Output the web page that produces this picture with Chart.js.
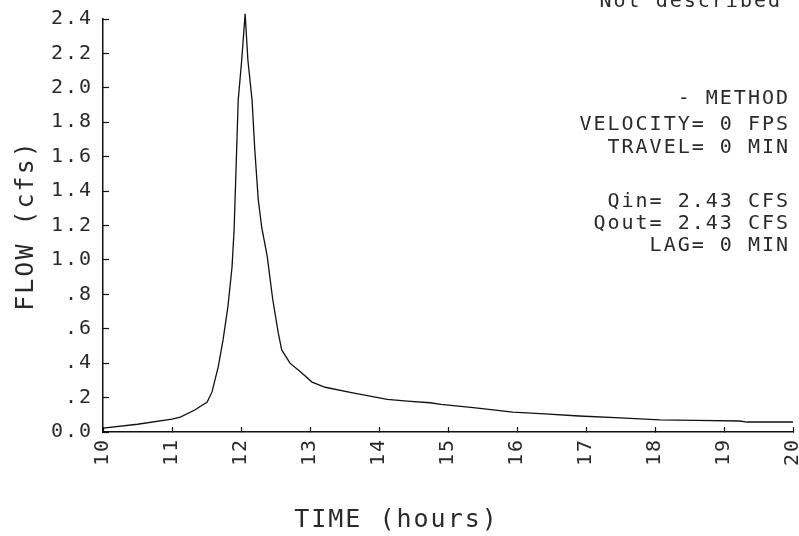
<!DOCTYPE html>
<html>
<head>
<meta charset="utf-8">
<script src="https://cdn.jsdelivr.net/npm/chart.js@4.4.0/dist/chart.umd.min.js"></script>
<style>
  html, body { margin: 0; padding: 0; background: #fff; }
  canvas { display: block; }
</style>
</head>
<body>
<canvas id="flowChart" width="799" height="536"></canvas>
<script>
// hydrograph (hours, cfs)
const hours = [10, 10.5, 11, 11.12, 11.33, 11.51, 11.58, 11.67, 11.74, 11.81, 11.87, 11.9, 11.94, 11.96, 12.01, 12.06,
  12.1, 12.16, 12.2, 12.25, 12.3, 12.38, 12.46, 12.54, 12.59, 12.71, 12.86, 13.03, 13.22, 13.62, 14.12, 14.41,
  14.74, 14.9, 15.4, 15.94, 16.4, 16.9, 17.5, 18.07, 18.6, 19.23, 19.33, 20];
const flowCfs = [0.023, 0.045, 0.075, 0.087, 0.128, 0.174, 0.233, 0.378, 0.535, 0.727, 0.959, 1.174, 1.68, 1.93, 2.16, 2.43,
  2.16, 1.93, 1.64, 1.35, 1.19, 1.02, 0.77, 0.576, 0.477, 0.40, 0.35, 0.29, 0.26, 0.227, 0.19, 0.18,
  0.17, 0.16, 0.14, 0.116, 0.105, 0.093, 0.082, 0.07, 0.067, 0.064, 0.058, 0.058];
const yTickLabels = ['0.0', '.2', '.4', '.6', '.8', '1.0', '1.2', '1.4', '1.6', '1.8', '2.0', '2.2', '2.4'];
const headerLine = 'Not described';
const noteLines = ['- METHOD', 'VELOCITY= 0 FPS', 'TRAVEL= 0 MIN', 'Qin= 2.43 CFS', 'Qout= 2.43 CFS', 'LAG= 0 MIN'];

const ink = '#2a2a2a';
const mono = 'DejaVu Sans Mono';

// plotter-style wide letter spacing for every text the chart draws
const spacing = {
  id: 'spacing',
  beforeUpdate(chart) { chart.ctx.letterSpacing = '2px'; },
  beforeDraw(chart) { chart.ctx.letterSpacing = '2px'; }
};

// right-hand info block
const notes = {
  id: 'notes',
  afterDraw(chart) {
    const ctx = chart.ctx;
    ctx.save();
    ctx.letterSpacing = '2px';
    ctx.fillStyle = ink;
    ctx.font = '20px "' + mono + '"';
    ctx.textAlign = 'right';
    ctx.textBaseline = 'alphabetic';
    ctx.fillText(headerLine, 782, 7);
    const baselines = [104, 130, 153, 207, 229, 251];
    noteLines.forEach((t, i) => ctx.fillText(t, 790, baselines[i]));
    ctx.restore();
  }
};

const ctx = document.getElementById('flowChart').getContext('2d');
const flowChart = new Chart(ctx, {
  type: 'line',
  data: {
    datasets: [{
      data: hours.map((h, i) => ({ x: h, y: flowCfs[i] })),
      borderColor: '#111',
      borderWidth: 1.3,
      pointRadius: 0,
      tension: 0,
      fill: false,
      clip: false
    }]
  },
  options: {
    responsive: false,
    animation: false,
    devicePixelRatio: 1,
    layout: { padding: { top: 19, right: 6, left: 0, bottom: 0 } },
    plugins: {
      legend: { display: false },
      tooltip: { enabled: false },
      title: {
        display: true,
        position: 'bottom',
        text: 'TIME (hours)',
        color: ink,
        font: { family: mono, size: 25, weight: 'normal', lineHeight: 1.2 },
        padding: { top: 0, bottom: 1 }
      }
    },
    scales: {
      x: {
        type: 'linear',
        min: 10,
        max: 20,
        afterFit: s => { s.height = 73; s.paddingLeft = 0; s.paddingRight = 0; },
        ticks: {
          stepSize: 1,
          minRotation: 90,
          maxRotation: 90,
          padding: 11,
          color: ink,
          font: { family: mono, size: 20 }
        },
        grid: { drawOnChartArea: false, tickLength: -5, tickColor: '#111', tickWidth: 1.2 },
        border: { color: '#111', width: 1.5 }
      },
      y: {
        min: 0,
        max: 2.4,
        afterFit: s => { s.width = 103; s.paddingTop = 0; s.paddingBottom = 0; },
        ticks: {
          stepSize: 0.2,
          padding: 16,
          color: ink,
          font: { family: mono, size: 20 },
          callback: (v, i) => yTickLabels[i]
        },
        grid: { drawOnChartArea: false, tickLength: -6, tickColor: '#111', tickWidth: 1.2 },
        border: { color: '#111', width: 1.5 },
        title: {
          display: true,
          text: 'FLOW (cfs)',
          color: ink,
          font: { family: mono, size: 25, weight: 'normal', lineHeight: 1.2 },
          padding: { top: 11, bottom: 0 }
        }
      }
    }
  },
  plugins: [spacing, notes]
});
</script>
</body>
</html>
